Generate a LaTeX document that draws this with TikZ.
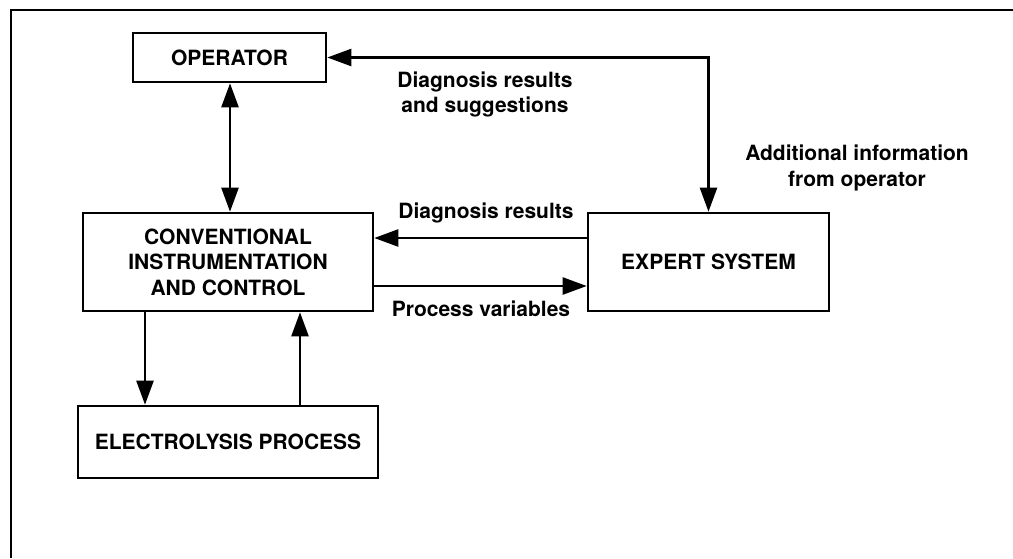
\documentclass[tikz,border=0pt]{standalone}
\usepackage{fontspec}
\setmainfont{TeX Gyre Heros}
\usetikzlibrary{arrows.meta}
\begin{document}
\begin{tikzpicture}[x=1pt,y=-1pt,
  lbl/.style={font=\fontsize{21}{25.5}\selectfont\bfseries, align=center, inner sep=0pt},
  blk/.style={draw, line width=2.6pt, lbl, minimum width=#1, inner sep=0pt},
  flow/.style={line width=2.4pt, -{Triangle[length=24pt,width=17pt]}},
  flow2/.style={line width=2.4pt, {Triangle[length=24pt,width=17pt]}-{Triangle[length=24pt,width=17pt]}}]
  \useasboundingbox (0,0) rectangle (1013,558);
  % open frame around the diagram
  \draw[line width=2pt] (11,558) -- (11,10) -- (1013,10);

  % blocks
  \node[blk=193pt, minimum height=49pt] (op) at (229.5,57.5) {OPERATOR};
  \node[blk=290pt, minimum height=98pt] (conv) at (228,262) {CONVENTIONAL\\INSTRUMENTATION\\AND CONTROL};
  \node[blk=300pt, minimum height=72pt] (ep) at (228,442) {ELECTROLYSIS PROCESS};
  \node[blk=241pt, minimum height=98pt] (ex) at (708.5,262) {EXPERT SYSTEM};

  % connectors
  \draw[flow2] (op.south -| 230,0) -- (conv.north -| 230,0);
  \draw[flow2] (op.east) -| (ex.north);
  \draw[flow] ([yshift=24pt]ex.west) -- ([yshift=24pt]conv.east);
  \draw[flow] ([yshift=-24pt]conv.east) -- ([yshift=-24pt]ex.west);
  \draw[flow] ([xshift=-83pt]conv.south) -- ([xshift=-83pt]conv.south |- ep.north);
  \draw[flow] ([xshift=72pt]conv.south |- ep.north) -- ([xshift=72pt]conv.south);

  % labels
  \node[lbl] (l1) at (485,94.5) {Diagnosis results\\and suggestions};
  \node[lbl] (l2) at (857,168) {Additional information\\from operator};
  \node[lbl] (l3) at (486,213) {Diagnosis results};
  \node[lbl] (l4) at (481,309) {Process variables};
\end{tikzpicture}
\end{document}
